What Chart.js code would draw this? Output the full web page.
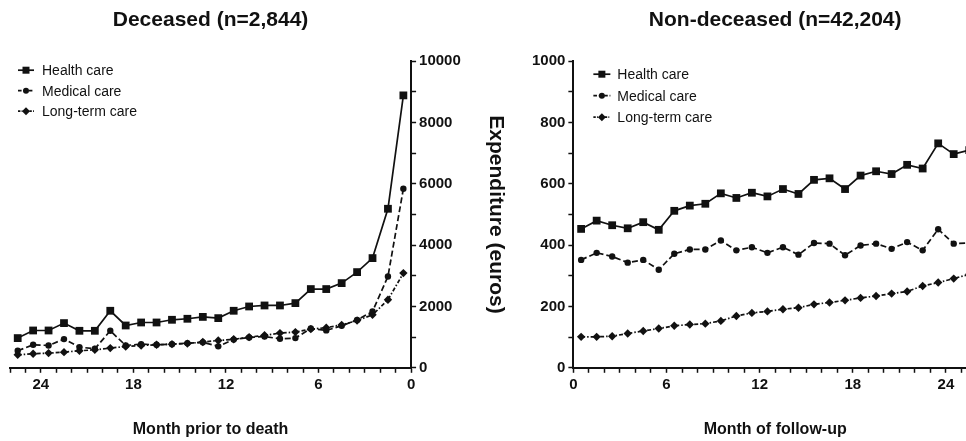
<!DOCTYPE html>
<html>
<head>
<meta charset="utf-8">
<script src="https://cdn.jsdelivr.net/npm/chart.js@4.4.1/dist/chart.umd.min.js"></script>
<style>
  html, body { margin: 0; padding: 0; background: #fff; overflow: hidden; width: 966px; height: 441px; }
  #wrap { position: relative; width: 966px; height: 441px; overflow: hidden; }
  #leftBox { position: absolute; left: 0; top: 0; width: 510px; height: 441px; }
  #rightBox { position: absolute; left: 510px; top: 0; width: 475px; height: 441px; }
</style>
</head>
<body>
<div id="wrap">
  <div id="leftBox"><canvas id="leftChart"></canvas></div>
  <div id="rightBox"><canvas id="rightChart"></canvas></div>
</div>
<script>
// données
const seriesNames = ["Health care", "Medical care", "Long-term care"];

// décédés : mois avant le décès
const deathMonths = [25.5, 24.5, 23.5, 22.5, 21.5, 20.5, 19.5, 18.5, 17.5, 16.5, 15.5, 14.5, 13.5,
  12.5, 11.5, 10.5, 9.5, 8.5, 7.5, 6.5, 5.5, 4.5, 3.5, 2.5, 1.5, 0.5];
const deathHealth = [969, 1217, 1217, 1458, 1207, 1207, 1860, 1380, 1478, 1478, 1566, 1599, 1660,
  1620, 1860, 2000, 2033, 2033, 2110, 2568, 2568, 2762, 3121, 3578, 5187, 8885];
const deathMedical = [555, 750, 729, 936, 675, 620, 1207, 729, 772, 750, 772, 805, 830,
  700, 920, 990, 1020, 946, 969, 1280, 1220, 1370, 1560, 1837, 2980, 5840];
const deathLongTerm = [424, 457, 479, 511, 555, 587, 642, 696, 729, 750, 772, 790, 840,
  890, 930, 1000, 1060, 1131, 1164, 1260, 1310, 1400, 1540, 1729, 2218, 3088];

// non décédés : mois de suivi
const followMonths = [0.5, 1.5, 2.5, 3.5, 4.5, 5.5, 6.5, 7.5, 8.5, 9.5, 10.5, 11.5, 12.5,
  13.5, 14.5, 15.5, 16.5, 17.5, 18.5, 19.5, 20.5, 21.5, 22.5, 23.5, 24.5, 25.5];
const aliveHealth = [453, 480, 465, 455, 475, 450, 512, 529, 535, 569, 554, 571, 559,
  583, 567, 613, 618, 583, 627, 641, 632, 662, 650, 732, 697, 710];
const aliveMedical = [352, 375, 363, 343, 352, 320, 372, 386, 386, 415, 383, 393, 375,
  393, 369, 407, 405, 367, 399, 405, 388, 410, 383, 452, 405, 407];
const aliveLongTerm = [101, 101, 103, 112, 120, 128, 137, 141, 144, 153, 169, 179, 184,
  191, 196, 207, 213, 220, 228, 234, 242, 249, 267, 278, 291, 305];

const ink = "#111";
const narrow = "'Liberation Sans Narrow', 'Arial Narrow', 'Liberation Sans', Arial, sans-serif";
const plain = "'Liberation Sans', Arial, sans-serif";

// style de chaque série
const styles = [
  { dash: [], point: "rect", radius: 5.5 },
  { dash: [6, 3], point: "circle", radius: 3.2 },
  { dash: [4, 2, 1.5, 2], point: "rectRot", radius: 4.2 }
];

function toPoints(xs, ys) {
  return xs.map((x, i) => ({ x: x, y: ys[i] }));
}

function makeDatasets(xs, lists) {
  return lists.map((ys, i) => ({
    label: seriesNames[i],
    data: toPoints(xs, ys),
    borderColor: ink,
    backgroundColor: ink,
    borderWidth: 1.7,
    borderDash: styles[i].dash,
    pointStyle: styles[i].point,
    pointRadius: styles[i].radius,
    pointBackgroundColor: ink,
    pointBorderColor: ink,
    pointBorderWidth: 0,
    tension: 0,
    clip: false
  }));
}

// légende dessinée dans la zone du graphique
const insideLegend = {
  id: "insideLegend",
  afterDatasetsDraw(chart, args, opts) {
    const ctx = chart.ctx;
    const area = chart.chartArea;
    ctx.save();
    chart.data.datasets.forEach((ds, i) => {
      const y = area.top + opts.firstRow + i * opts.rowGap;
      const x0 = area.left + opts.lineStart;
      const x1 = x0 + opts.lineLength;
      ctx.strokeStyle = ink;
      ctx.fillStyle = ink;
      ctx.lineWidth = 1.7;
      ctx.setLineDash(styles[i].dash.map(d => d * 0.6));
      ctx.beginPath();
      ctx.moveTo(x0, y);
      ctx.lineTo(x1, y);
      ctx.stroke();
      ctx.setLineDash([]);
      const cx = (x0 + x1) / 2;
      ctx.beginPath();
      if (i === 0) {
        ctx.rect(cx - 3.5, y - 3.5, 7, 7);
      } else if (i === 1) {
        ctx.arc(cx, y, 3, 0, Math.PI * 2);
      } else {
        ctx.moveTo(cx, y - 4); ctx.lineTo(cx + 4, y); ctx.lineTo(cx, y + 4); ctx.lineTo(cx - 4, y); ctx.closePath();
      }
      ctx.fill();
      ctx.font = "14px " + plain;
      ctx.textAlign = "left";
      ctx.textBaseline = "middle";
      ctx.fillText(ds.label, area.left + opts.textStart, y + 1);
    });
    ctx.restore();
  }
};

function axisX(titleText, reverse) {
  return {
    type: "linear",
    min: 0,
    max: 26,
    reverse: reverse,
    border: { display: true, color: ink, width: 2 },
    grid: { drawOnChartArea: false, drawTicks: true, tickLength: 5, tickColor: ink, tickWidth: 1.5 },
    ticks: {
      stepSize: 1,
      autoSkip: false,
      maxRotation: 0,
      padding: 3,
      color: ink,
      font: { family: narrow, size: 15, weight: "bold" },
      callback: v => (v % 6 === 0 ? String(v) : "")
    },
    title: {
      display: true,
      text: titleText,
      color: ink,
      font: { family: plain, size: 16, weight: "bold" },
      padding: { top: 23, bottom: 0 }
    }
  };
}

function axisY(pos, max, step, labelEvery, withTitle) {
  return {
    type: "linear",
    position: pos,
    min: 0,
    max: max,
    border: { display: true, color: ink, width: 2 },
    grid: { drawOnChartArea: false, drawTicks: true, tickLength: 5, tickColor: ink, tickWidth: 1.5 },
    ticks: {
      stepSize: step,
      padding: 3,
      color: ink,
      font: { family: narrow, size: 15, weight: "bold" },
      callback: v => (v % labelEvery === 0 ? String(v) : "")
    },
    title: {
      display: withTitle,
      text: "Expenditure (euros)",
      color: ink,
      font: { family: plain, size: 21, weight: "bold" },
      padding: { top: 0, bottom: 19 }
    }
  };
}

function titleOptions(text) {
  return {
    display: true,
    text: text,
    fullSize: false,
    color: ink,
    font: { family: narrow, size: 21, weight: "bold" },
    padding: { top: 8, bottom: 28 }
  };
}

const leftChart = new Chart(document.getElementById("leftChart"), {
  type: "line",
  data: { datasets: makeDatasets(deathMonths, [deathHealth, deathMedical, deathLongTerm]) },
  plugins: [insideLegend],
  options: {
    responsive: true,
    maintainAspectRatio: false,
    animation: false,
    layout: { padding: { left: 10, right: 2, top: 0, bottom: 2 } },
    scales: {
      x: axisX("Month prior to death", true),
      y: axisY("right", 10000, 1000, 2000, true)
    },
    plugins: {
      title: titleOptions("Deceased (n=2,844)"),
      legend: { display: false },
      insideLegend: { firstRow: 9, rowGap: 20.5, lineStart: 8, lineLength: 16, textStart: 32 },
      tooltip: { enabled: false }
    }
  }
});

const rightChart = new Chart(document.getElementById("rightChart"), {
  type: "line",
  data: { datasets: makeDatasets(followMonths, [aliveHealth, aliveMedical, aliveLongTerm]) },
  plugins: [insideLegend],
  options: {
    responsive: true,
    maintainAspectRatio: false,
    animation: false,
    layout: { padding: { left: 19, right: 8, top: 0, bottom: 2 } },
    scales: {
      x: axisX("Month of follow-up", false),
      y: axisY("left", 1000, 100, 200, false)
    },
    plugins: {
      title: titleOptions("Non-deceased (n=42,204)"),
      legend: { display: false },
      insideLegend: { firstRow: 13, rowGap: 21.5, lineStart: 20, lineLength: 17, textStart: 44 },
      tooltip: { enabled: false }
    }
  }
});
</script>
</body>
</html>
